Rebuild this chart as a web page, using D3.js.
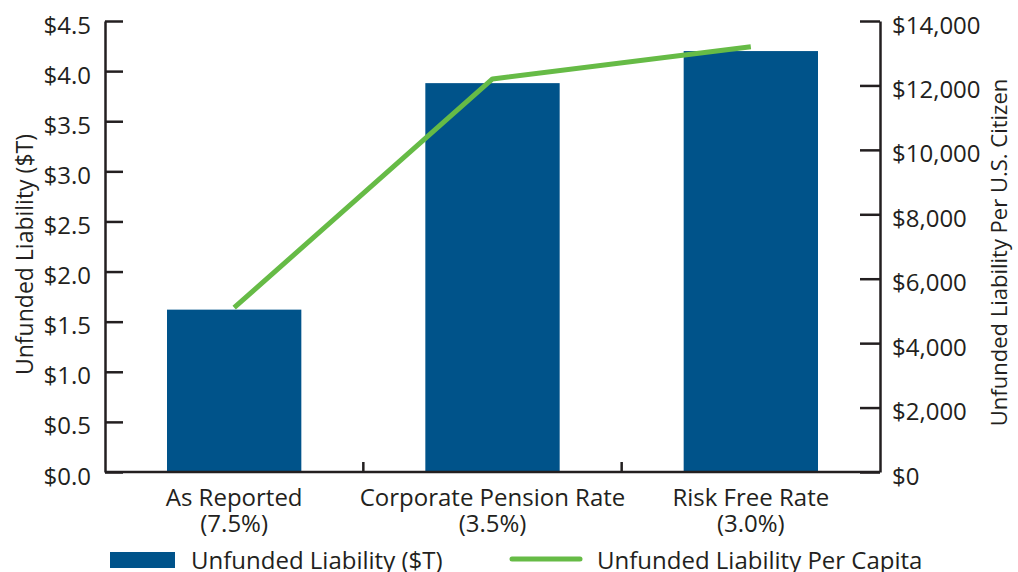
<!DOCTYPE html>
<html>
<head>
<meta charset="utf-8">
<script src="https://cdn.jsdelivr.net/npm/d3@7"></script>
<style>
  body { margin: 0; background: #fff; }
  text { font-family: "Open Sans", sans-serif; fill: #231f20; }
</style>
</head>
<body>
<svg id="chart" width="1018" height="572"></svg>
<script>
// data
const categories = ["As Reported", "Corporate Pension Rate", "Risk Free Rate"];
const rates = ["(7.5%)", "(3.5%)", "(3.0%)"];
const liability = [1.62, 3.88, 4.20];          // $T, bars
const perCapita = [5100, 12200, 13200];        // $ per citizen, line
const leftTicks = [0, 0.5, 1, 1.5, 2, 2.5, 3, 3.5, 4, 4.5];
const rightTicks = [0, 2000, 4000, 6000, 8000, 10000, 12000, 14000];

var margin = {top: 21, right: 138, bottom: 100, left: 105},
    width = 1018 - margin.left - margin.right,
    height = 572 - margin.top - margin.bottom;

const svg = d3.select("#chart")
    .append("g")
    .attr("transform", "translate(" + margin.left + "," + margin.top + ")");

var x = d3.scaleBand()
    .domain(categories)
    .range([0, width])
    .paddingInner(0)
    .paddingOuter(0);

var yL = d3.scaleLinear().domain([0, 4.5]).range([height, 0]);
var yR = d3.scaleLinear().domain([0, 14000]).range([height, 0]);

const barW = x.bandwidth() * 0.52;

// bars
svg.append("g")
    .selectAll("rect")
    .data(liability)
    .enter()
    .append("rect")
    .attr("x", (d, i) => x(categories[i]) + x.bandwidth() / 2 - barW / 2)
    .attr("y", d => yL(d))
    .attr("width", barW)
    .attr("height", d => height - yL(d))
    .style("fill", "#00538a");

// line
const line = d3.line()
    .x((d, i) => x(categories[i]) + x.bandwidth() / 2)
    .y(d => yR(d));
svg.append("path")
    .datum(perCapita)
    .attr("d", line)
    .attr("fill", "none")
    .attr("stroke", "#66bb46")
    .attr("stroke-width", 5)
    .attr("stroke-linejoin", "round");

// axes
const axisColor = "#231f20";
function styleAxis(g) {
    g.select(".domain").attr("stroke", axisColor).attr("stroke-width", 2.5);
    g.selectAll(".tick line").attr("stroke", axisColor).attr("stroke-width", 2.5);
    g.selectAll(".tick text").style("font-size", "24px").attr("fill", axisColor).attr("dy", "0.5em");
}

const leftAxis = svg.append("g")
    .call(d3.axisLeft(yL).tickValues(leftTicks).tickSize(-18).tickSizeOuter(0)
        .tickFormat(d => "$" + d3.format(".1f")(d)))
    .call(styleAxis);
leftAxis.selectAll(".tick text").attr("x", -14);

const rightAxis = svg.append("g")
    .attr("transform", "translate(" + width + ",0)")
    .call(d3.axisRight(yR).tickValues(rightTicks).tickSize(-20).tickSizeOuter(0)
        .tickFormat(d => "$" + d3.format(",")(d)))
    .call(styleAxis);
rightAxis.selectAll(".tick text").attr("x", 12);

// x axis: ticks between categories
const xAxis = svg.append("g")
    .attr("transform", "translate(0," + height + ")");
xAxis.append("line")
    .attr("x1", 0).attr("x2", width)
    .attr("stroke", axisColor).attr("stroke-width", 2.5);
xAxis.selectAll(".sep")
    .data(categories.slice(1))
    .enter()
    .append("line")
    .attr("x1", d => x(d)).attr("x2", d => x(d))
    .attr("y1", 0).attr("y2", -10)
    .attr("stroke", axisColor).attr("stroke-width", 2.5);

const lab = xAxis.selectAll(".lab")
    .data(categories)
    .enter()
    .append("text")
    .attr("text-anchor", "middle")
    .style("font-size", "24px");
lab.append("tspan").attr("x", d => x(d) + x.bandwidth() / 2).attr("y", 34).text(d => d);
lab.append("tspan").attr("x", d => x(d) + x.bandwidth() / 2).attr("y", 60).text((d, i) => rates[i]);

// axis titles
svg.append("text")
    .attr("transform", "translate(-72," + (height / 2 + 8) + ") rotate(-90)")
    .attr("text-anchor", "middle")
    .style("font-size", "23px")
    .text("Unfunded Liability ($T)");

svg.append("text")
    .attr("transform", "translate(" + (width + 127) + "," + (height / 2 + 6) + ") rotate(-90)")
    .attr("text-anchor", "middle")
    .style("font-size", "22px")
    .text("Unfunded Liability Per U.S. Citizen");

// legend
const legend = d3.select("#chart").append("g");
legend.append("rect")
    .attr("x", 110).attr("y", 552).attr("width", 65).attr("height", 16)
    .style("fill", "#00538a");
legend.append("text")
    .attr("x", 191).attr("y", 569)
    .style("font-size", "24px")
    .text("Unfunded Liability ($T)");
legend.append("line")
    .attr("x1", 512).attr("x2", 580).attr("y1", 559).attr("y2", 559)
    .attr("stroke", "#66bb46").attr("stroke-width", 5).attr("stroke-linecap", "round");
legend.append("text")
    .attr("x", 597).attr("y", 569)
    .style("font-size", "24px")
    .text("Unfunded Liability Per Capita");
</script>
</body>
</html>
